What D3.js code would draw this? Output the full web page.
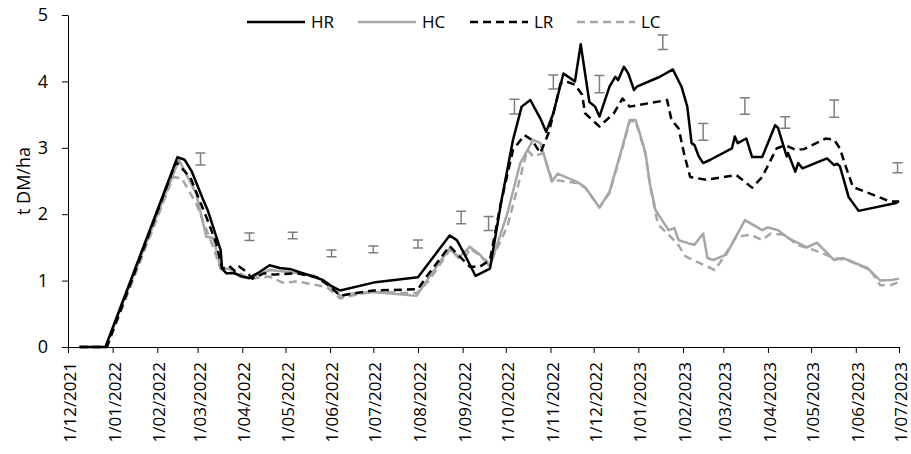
<!DOCTYPE html>
<html>
<head>
    <meta charset="utf-8" />
    <title>t DM/ha</title>
    <script src="https://d3js.org/d3.v7.min.js"></script>
    <style type="text/css">
        body { margin: 0; background: #fff; }
        text { font-family: "Open Sans", sans-serif; fill: #000; }
        .axis path, .axis line { stroke: #000; stroke-width: 1; }
        .line { fill: none; stroke-width: 2.5; stroke-linejoin: round; }
        .errbar { stroke: #7f7f7f; stroke-width: 1.5; fill: none; }
    </style>
</head>
<body>
    <svg id="chart" width="911" height="454"></svg>
    <script>
        // x values are days after 1/12/2021
        var startDate = new Date(Date.UTC(2021, 11, 1));
        var endDate = new Date(Date.UTC(2023, 6, 1));

        var seriesNames = ['HR', 'HC', 'LR', 'LC'];

        var hrData = [[8, 0], [26, 0], [76, 2.86], [81, 2.82], [86, 2.64], [94, 2.21], [97, 2.06], [103, 1.66],
            [106, 1.46], [107, 1.18], [110, 1.11], [115, 1.11], [117, 1.1], [121, 1.06], [126, 1.04], [133, 1.13],
            [140, 1.23], [147, 1.19], [155, 1.17], [163, 1.11], [177, 1.01], [182, 0.93], [189, 0.85], [212, 0.97],
            [243, 1.05], [265, 1.68], [270, 1.61], [275, 1.41], [283, 1.07], [293, 1.18], [301, 2.21], [309, 3.12],
            [315, 3.62], [321, 3.72], [328, 3.44], [332, 3.24], [337, 3.52], [344, 4.12], [352, 4.0], [356, 4.56],
            [362, 3.69], [366, 3.62], [369, 3.47], [376, 3.92], [380, 4.07], [382, 4.02], [386, 4.22], [389, 4.12],
            [393, 3.87], [395, 3.92], [411, 4.07], [420, 4.18], [426, 3.92], [430, 3.62], [433, 3.07], [435, 3.04],
            [438, 2.87], [441, 2.77], [446, 2.82], [461, 2.99], [463, 3.17], [465, 3.07], [471, 3.14], [475, 2.86],
            [482, 2.86], [491, 3.34], [493, 3.3], [499, 2.87], [500, 2.92], [505, 2.64], [507, 2.77], [510, 2.69],
            [527, 2.84], [532, 2.74], [534, 2.76], [536, 2.72], [542, 2.26], [549, 2.05], [575, 2.17], [577, 2.2]];

        var hcData = [[8, 0], [26, 0], [77, 2.82], [89, 2.31], [96, 1.66], [101, 1.64], [106, 1.18], [112, 1.18],
            [119, 1.06], [126, 1.03], [140, 1.16], [154, 1.13], [170, 1.08], [180, 0.96], [189, 0.77], [194, 0.8],
            [212, 0.83], [242, 0.77], [251, 1.06], [265, 1.49], [271, 1.34], [279, 1.51], [286, 1.39], [293, 1.21],
            [305, 2.01], [314, 2.77], [323, 3.12], [328, 3.07], [336, 2.49], [340, 2.61], [353, 2.49], [359, 2.41],
            [369, 2.1], [376, 2.34], [385, 3.02], [390, 3.42], [394, 3.42], [397, 3.22], [401, 2.92], [404, 2.46],
            [408, 2.06], [411, 1.96], [417, 1.76], [421, 1.79], [424, 1.61], [431, 1.56], [435, 1.54], [441, 1.71],
            [444, 1.34], [448, 1.31], [457, 1.39], [470, 1.91], [482, 1.76], [486, 1.8], [493, 1.76], [500, 1.64],
            [513, 1.5], [520, 1.57], [532, 1.31], [538, 1.34], [555, 1.19], [564, 1.0], [572, 1.01], [577, 1.03]];

        var lrData = [[8, 0], [27, 0], [75, 2.79], [85, 2.55], [96, 1.96], [103, 1.56], [107, 1.18], [112, 1.22],
            [116, 1.14], [119, 1.21], [124, 1.13], [128, 1.03], [136, 1.11], [143, 1.09], [159, 1.11], [173, 1.05],
            [182, 0.91], [189, 0.77], [196, 0.8], [212, 0.85], [243, 0.87], [249, 1.06], [265, 1.52], [272, 1.36],
            [279, 1.21], [286, 1.21], [293, 1.31], [300, 2.11], [309, 2.97], [317, 3.19], [322, 3.12], [328, 2.92],
            [334, 3.24], [342, 3.97], [346, 4.0], [352, 3.95], [357, 3.8], [359, 3.52], [369, 3.32], [379, 3.52],
            [385, 3.74], [390, 3.62], [416, 3.72], [419, 3.42], [424, 3.29], [428, 2.89], [432, 2.56], [443, 2.52],
            [464, 2.59], [475, 2.4], [482, 2.56], [492, 2.99], [498, 3.04], [505, 2.97], [511, 2.98], [526, 3.14],
            [532, 3.12], [536, 2.99], [540, 2.72], [545, 2.41], [571, 2.19], [577, 2.19]];

        var lcData = [[8, 0], [27, 0], [73, 2.56], [79, 2.54], [89, 2.16], [99, 1.61], [106, 1.18], [112, 1.2],
            [126, 1.03], [140, 1.06], [150, 0.96], [159, 0.99], [173, 0.93], [180, 0.9], [189, 0.73], [198, 0.78],
            [212, 0.83], [242, 0.81], [251, 1.01], [265, 1.46], [275, 1.31], [279, 1.49], [288, 1.34], [293, 1.26],
            [305, 1.81], [319, 2.97], [323, 2.87], [330, 2.92], [336, 2.52], [353, 2.47], [359, 2.4], [369, 2.1],
            [376, 2.32], [385, 3.0], [390, 3.4], [394, 3.4], [397, 3.2], [401, 2.9], [404, 2.45], [409, 1.91],
            [410, 1.84], [423, 1.56], [429, 1.36], [439, 1.26], [444, 1.21], [449, 1.16], [453, 1.28], [464, 1.66],
            [474, 1.69], [482, 1.61], [488, 1.71], [498, 1.69], [506, 1.54], [518, 1.46], [532, 1.34], [541, 1.31],
            [557, 1.16], [564, 0.93], [571, 0.93], [577, 0.98]];

        // measured mean +/- error
        var errDays = [92, 126, 156, 183, 212, 243, 273, 292, 310, 337, 369, 413, 441, 470, 498, 532, 576];
        var errMean = [2.83, 1.66, 1.68, 1.41, 1.47, 1.55, 1.95, 1.86, 3.62, 3.99, 3.96, 4.59, 3.24, 3.63, 3.38, 3.59, 2.70];
        var errSize = [0.09, 0.055, 0.05, 0.05, 0.05, 0.06, 0.095, 0.105, 0.11, 0.105, 0.13, 0.11, 0.125, 0.125, 0.087, 0.13, 0.075];

        var yTicks = [0, 1, 2, 3, 4, 5];

        var styles = {
            HR: { color: '#000', dash: null },
            HC: { color: '#a6a6a6', dash: null },
            LR: { color: '#000', dash: '8,5' },
            LC: { color: '#a6a6a6', dash: '8,5' }
        };

        function toDate(d) { return d3.utcDay.offset(startDate, d); }

        var margin = { left: 68, right: 12, top: 15, bottom: 107 };
        var width = 911 - margin.left - margin.right;
        var height = 454 - margin.top - margin.bottom;

        var svg = d3.select('#chart')
            .append('g')
            .attr('transform', `translate(${margin.left},${margin.top})`);

        var xScale = d3.scaleUtc()
            .domain([startDate, endDate])
            .range([0, width]);

        var yScale = d3.scaleLinear()
            .domain([0, 5])
            .range([height, 0]);

        // axes
        var xAxis = svg.append('g')
            .attr('class', 'axis')
            .attr('transform', `translate(0,${height})`)
            .call(d3.axisBottom(xScale)
                .ticks(d3.utcMonth.every(1))
                .tickSizeOuter(0)
                .tickFormat(d3.utcFormat('%-d/%m/%Y')));

        xAxis.selectAll('text')
            .style('font-size', '17px')
            .attr('text-anchor', 'end')
            .attr('x', -15)
            .attr('y', 0)
            .attr('dy', '0.45em')
            .attr('transform', 'rotate(-90)');

        svg.append('g')
            .attr('class', 'axis')
            .call(d3.axisLeft(yScale)
                .tickValues(yTicks)
                .tickSizeOuter(0)
                .tickPadding(14)
                .tickFormat(d3.format('d')))
            .selectAll('text')
            .style('font-size', '18px');

        svg.append('text')
            .attr('transform', `translate(-38,${height / 2}) rotate(-90)`)
            .attr('text-anchor', 'middle')
            .style('font-size', '18px')
            .text('t DM/ha');

        // error bars
        var errGroup = svg.append('g');
        errDays.forEach(function (d, i) {
            var x = xScale(toDate(d));
            var y0 = yScale(errMean[i] - errSize[i]);
            var y1 = yScale(errMean[i] + errSize[i]);
            errGroup.append('path')
                .attr('class', 'errbar')
                .attr('d', `M${x},${y0}V${y1}M${x - 5},${y0}H${x + 5}M${x - 5},${y1}H${x + 5}`);
        });

        var line = d3.line()
            .x(function (d) { return xScale(toDate(d[0])); })
            .y(function (d) { return yScale(d[1]); });

        var allData = { HR: hrData, HC: hcData, LR: lrData, LC: lcData };

        // draw grey lines first so black sits on top
        ['HC', 'LC', 'LR', 'HR'].forEach(function (name) {
            svg.append('path')
                .datum(allData[name])
                .attr('class', 'line')
                .attr('stroke', styles[name].color)
                .attr('stroke-dasharray', styles[name].dash)
                .attr('d', line);
        });

        // legend
        var legendX = [179, 290, 402, 509];
        var legend = svg.append('g')
            .attr('transform', 'translate(0,7)');

        seriesNames.forEach(function (name, i) {
            var g = legend.append('g').attr('transform', `translate(${legendX[i]},0)`);
            g.append('line')
                .attr('x1', 0)
                .attr('x2', 58)
                .attr('y1', 0)
                .attr('y2', 0)
                .attr('stroke', styles[name].color)
                .attr('stroke-width', 2.5)
                .attr('stroke-dasharray', styles[name].dash);
            g.append('text')
                .attr('x', 64)
                .attr('dy', '0.35em')
                .style('font-size', '17px')
                .text(name);
        });
    </script>
</body>
</html>
